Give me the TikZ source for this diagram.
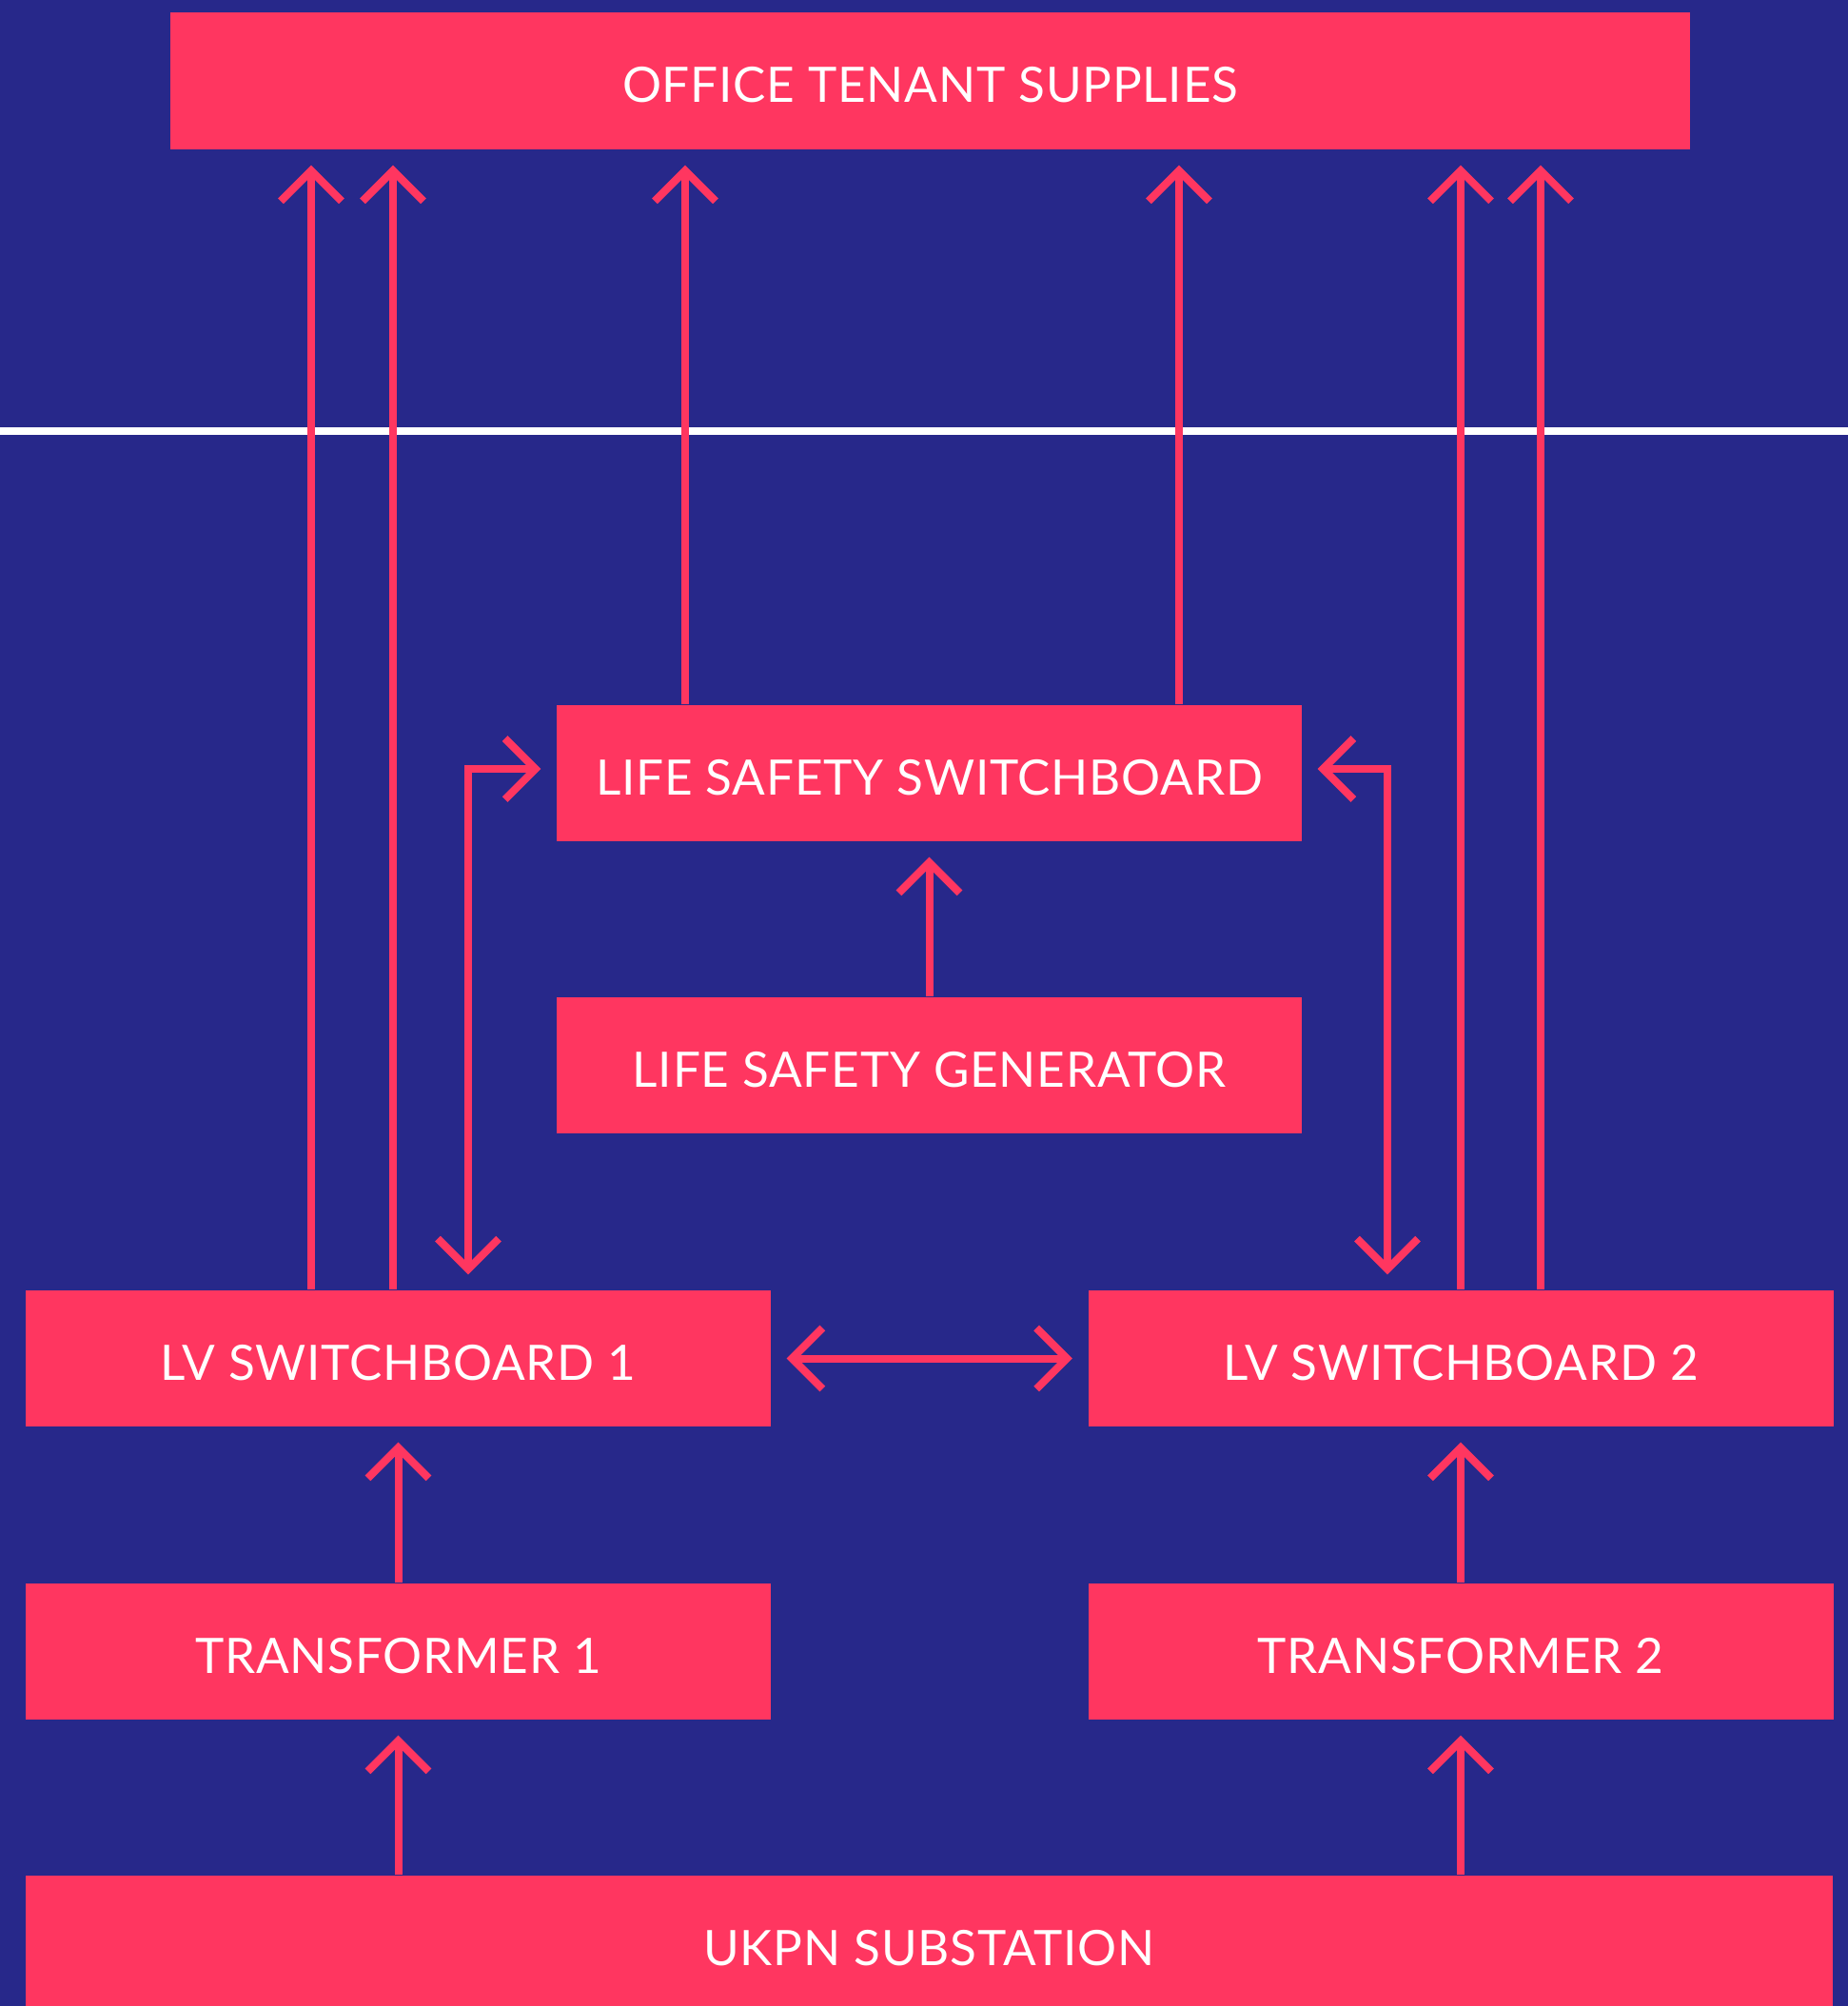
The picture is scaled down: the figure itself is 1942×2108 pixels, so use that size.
\documentclass[tikz,border=0pt]{standalone}
\usepackage{fontspec}
\setmainfont{Lato}[LetterSpace=1.5]
\usetikzlibrary{arrows.meta}
\definecolor{navy}{RGB}{39,40,138}
\definecolor{rose}{RGB}{255,54,96}
\tikzset{
  block/.style={fill=rose, text=white, inner sep=0pt, minimum width=78.3mm, minimum height=14.3mm, text height=4.5mm, text depth=0mm, font=\fontsize{14.6}{17}\selectfont},
  barb/.tip={Straight Barb[length=3.2mm, width=6.4mm]},
  flow/.style={draw=rose, line width=0.8mm, -barb, shorten >=1.6mm},
  flowboth/.style={flow, barb-barb, shorten <=1.6mm}
}
\begin{document}
\begin{tikzpicture}[x=0.1mm, y=-0.1mm]
  \useasboundingbox (0,0) rectangle (1942,2108);
  \fill[navy] (0,0) rectangle (1942,2108);
  \draw[white, line width=0.8mm] (0,452.5) -- (1942,452.5);

  \node[block, minimum width=159.7mm, minimum height=14.4mm] (office) at (977.5,85) {OFFICE TENANT SUPPLIES};
  \node[block] (lss) at (976.5,812.5) {LIFE SAFETY SWITCHBOARD};
  \node[block] (lsg) at (976.5,1119.5) {LIFE SAFETY GENERATOR};
  \node[block] (lv1) at (418.5,1427.5) {LV SWITCHBOARD 1};
  \node[block] (lv2) at (1535,1427.5) {LV SWITCHBOARD 2};
  \node[block] (tr1) at (418.5,1735.5) {TRANSFORMER 1};
  \node[block] (tr2) at (1535,1735.5) {TRANSFORMER 2};
  \node[block, minimum width=189.9mm] (ukpn) at (976.5,2042.5) {UKPN SUBSTATION};

  \draw[flow] (327,0 |- lv1.north) -- (327,0 |- office.south);
  \draw[flow] (413,0 |- lv1.north) -- (413,0 |- office.south);
  \draw[flow] (720,0 |- lss.north) -- (720,0 |- office.south);
  \draw[flow] (1239,0 |- lss.north) -- (1239,0 |- office.south);
  \draw[flow] (1535,0 |- lv2.north) -- (1535,0 |- office.south);
  \draw[flow] (1619,0 |- lv2.north) -- (1619,0 |- office.south);

  \draw[flow] (lsg) -- (lss);
  \draw[flowboth] (492,0 |- lv1.north) |- ([yshift=0.45mm]lss.west);
  \draw[flowboth] (1458,0 |- lv2.north) |- ([yshift=0.45mm]lss.east);
  \draw[flowboth] (lv1) -- (lv2);

  \draw[flow] (tr1) -- (lv1);
  \draw[flow] (tr2) -- (lv2);
  \draw[flow] (ukpn.north -| tr1) -- (tr1);
  \draw[flow] (ukpn.north -| tr2) -- (tr2);
\end{tikzpicture}
\end{document}
